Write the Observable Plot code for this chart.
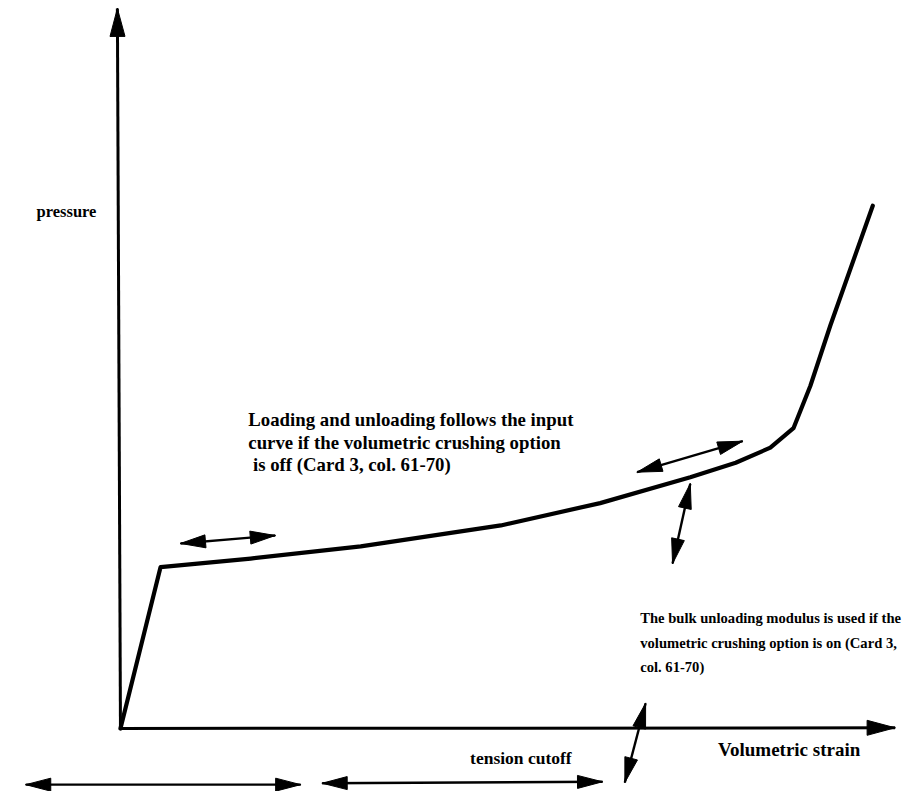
<!DOCTYPE html>
<html>
<head>
<meta charset="utf-8">
<script src="https://cdn.jsdelivr.net/npm/d3@7"></script>
<script src="https://cdn.jsdelivr.net/npm/@observablehq/plot@0.6"></script>
<style>
  html, body { margin: 0; padding: 0; background: #fff; }
  #chart svg { display: block; }
</style>
</head>
<body>
<div id="chart"></div>
<script>
// ---- data (arbitrary units: strain 0..100, pressure 0..100) ----
const curveStrain   = [0, 5.2, 16.9, 31.2, 49.4, 62.3, 74.0, 79.9, 84.4, 87.4, 89.6, 92.2, 97.7];
const curvePressure = [0, 22.4, 23.6, 25.3, 28.2, 31.3, 34.9, 36.9, 39.0, 41.7, 47.6, 56.0, 72.6];

// axes (single-headed arrows)
const axisX1 = [0, 0];
const axisY1 = [0, 0];
const axisX2 = [-0.4, 100.6];
const axisY2 = [100, 0.1];

// double-headed annotation arrows
const dblX1 = [7.8, 67.1, 74.0, 68.2, -12.3, 26.2];
const dblY1 = [25.7, 35.6, 34.0, 3.5, -7.8, -7.6];
const dblX2 = [20.1, 80.8, 71.7, 65.5, 23.4, 62.6];
const dblY2 = [26.8, 39.9, 22.9, -7.5, -7.8, -7.4];

// text labels
const labelText = [
  "pressure",
  "Loading and unloading follows the input",
  "curve if the volumetric crushing option",
  " is off (Card 3, col. 61-70)",
  "The bulk unloading modulus is used if the",
  "volumetric crushing option is on (Card 3,",
  "col. 61-70)",
  "tension cutoff",
  "Volumetric strain"
];
const labelX = [-10.9, 16.6, 16.6, 16.6, 67.5, 67.5, 67.5, 45.4, 77.6];
const labelY = [71.7, 42.8, 39.7, 36.6, 15.3, 11.8, 8.5, -4.2, -3.0];
const labelSize = [16.5, 18.8, 18.8, 18.8, 14.6, 14.6, 14.6, 17.5, 19];

// ---- build tables ----
const W = 904, H = 791;
const xDomain = [-15.58, 101.82], yDomain = [-8.75, 101.1];
const xs = d3.scaleLinear(xDomain, [0, W]);
const ys = d3.scaleLinear(yDomain, [H, 0]);

const curve = curveStrain.map((x, i) => ({x, y: curvePressure[i]}));
const axes = axisX1.map((_, i) => ({x1: axisX1[i], y1: axisY1[i], x2: axisX2[i], y2: axisY2[i]}));
const dbl = dblX1.map((_, i) => ({x1: dblX1[i], y1: dblY1[i], x2: dblX2[i], y2: dblY2[i]}));

// arrowhead polygons computed in pixel space from the data endpoints
const heads = [];
let hid = 0;
function addHead(tx, ty, fx, fy, L, hw) {
  const px = xs(tx), py = ys(ty), qx = xs(fx), qy = ys(fy);
  let dx = px - qx, dy = py - qy;
  const len = Math.hypot(dx, dy); dx /= len; dy /= len;
  const bx = px - L * dx, by = py - L * dy;
  const nx = -dy, ny = dx;
  const pts = [[px, py], [bx + hw * nx, by + hw * ny], [bx - hw * nx, by - hw * ny], [px, py]];
  const id = hid++;
  pts.forEach(([a, b]) => heads.push({id, x: xs.invert(a), y: ys.invert(b)}));
}
axes.forEach(d => addHead(d.x2, d.y2, d.x1, d.y1, 28, 7.5));
dbl.forEach(d => {
  addHead(d.x2, d.y2, d.x1, d.y1, 25, 6.5);
  addHead(d.x1, d.y1, d.x2, d.y2, 25, 6.5);
});

const labels = labelText.map((t, i) => ({t, x: labelX[i], y: labelY[i], s: labelSize[i]}));
const textMarks = labels.map(d => Plot.text([d], {
  x: "x", y: "y", text: "t", textAnchor: "start", fill: "black",
  fontFamily: "Liberation Serif", fontSize: d.s, fontWeight: "bold"
}));

const chart = Plot.plot({
  width: W, height: H, margin: 0,
  x: {domain: xDomain, axis: null},
  y: {domain: yDomain, axis: null},
  style: {background: "#fff"},
  marks: [
    Plot.link(axes, {x1: "x1", y1: "y1", x2: "x2", y2: "y2", stroke: "black", strokeWidth: 3}),
    Plot.link(dbl, {x1: "x1", y1: "y1", x2: "x2", y2: "y2", stroke: "black", strokeWidth: 2.4}),
    Plot.line(heads, {x: "x", y: "y", z: "id", fill: "black", stroke: "black", strokeWidth: 1, strokeLinejoin: "miter"}),
    Plot.line(curve, {x: "x", y: "y", stroke: "black", strokeWidth: 4.2, strokeLinejoin: "round", strokeLinecap: "round"}),
    ...textMarks
  ]
});
document.getElementById("chart").appendChild(chart);
</script>
</body>
</html>
